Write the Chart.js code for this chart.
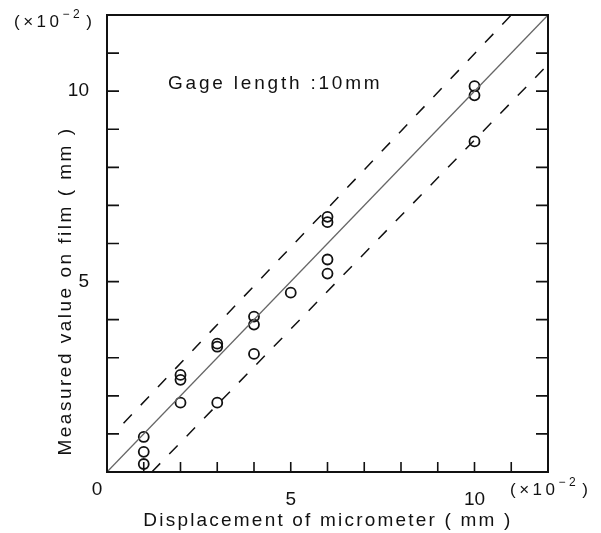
<!DOCTYPE html>
<html>
<head>
<meta charset="utf-8">
<script src="https://cdn.jsdelivr.net/npm/chart.js@4"></script>
<style>
  html, body { margin: 0; padding: 0; background: #fff; }
  #chart { display: block; }
</style>
</head>
<body>
<canvas id="chart" width="601" height="533"></canvas>
<script>
// measured points (x10^-2 mm)
const pointsX = [1, 1, 1, 2, 2, 2, 3, 3, 3, 4, 4, 4, 5, 6, 6, 6, 6, 10, 10, 10];
const pointsY = [0.92, 0.53, 0.21, 2.55, 2.42, 1.82, 3.37, 3.29, 1.82, 4.08, 3.87, 3.1, 4.71, 6.7, 6.56, 5.58, 5.21, 10.13, 9.89, 8.68];

// reference line y = x and the two dashed bounds
const idealX = [0, 12];
const idealY = [0, 12];
const upperX = [0.45, 11.0];
const upperY = [1.28, 12];
const lowerX = [1.22, 12];
const lowerY = [0, 10.7];

// axis ticks
const minorTicks = [1, 2, 3, 4, 5, 6, 7, 8, 9, 10, 11];
const labelTicks = [5, 10];

const FONT = "'Liberation Sans', Arial, sans-serif";

const toXY = (xs, ys) => xs.map((x, i) => ({ x, y: ys[i] }));

const drawText = (ctx, str, x, y, opts = {}) => {
  ctx.save();
  ctx.font = opts.font || `18px ${FONT}`;
  ctx.letterSpacing = opts.spacing || "0px";
  ctx.fillStyle = "#111";
  ctx.textAlign = opts.align || "left";
  ctx.textBaseline = "middle";
  ctx.translate(x, y);
  if (opts.rotate) ctx.rotate(opts.rotate);
  ctx.fillText(str, 0, 0);
  ctx.restore();
};

// "(x10^-2)" with a raised exponent
const drawUnit = (ctx, x, y) => {
  ctx.save();
  ctx.fillStyle = "#111";
  ctx.textBaseline = "middle";
  ctx.letterSpacing = "3.5px";
  ctx.font = `17px ${FONT}`;
  ctx.fillText("(×10", x, y);
  let w = ctx.measureText("(×10").width;
  ctx.font = `12px ${FONT}`;
  ctx.fillText("−2", x + w, y - 7);
  w += ctx.measureText("−2").width + 3;
  ctx.font = `17px ${FONT}`;
  ctx.fillText(")", x + w, y);
  ctx.restore();
};

const framePlugin = {
  id: "frame",
  afterDraw(chart) {
    const { ctx, chartArea: a, scales } = chart;
    ctx.save();
    ctx.strokeStyle = "#111";
    ctx.lineWidth = 2;
    ctx.strokeRect(a.left, a.top, a.right - a.left, a.bottom - a.top);

    // inward ticks on left, right and bottom
    ctx.lineWidth = 1.6;
    ctx.beginPath();
    minorTicks.forEach((v) => {
      const py = scales.y.getPixelForValue(v);
      ctx.moveTo(a.left, py);
      ctx.lineTo(a.left + 12, py);
      ctx.moveTo(a.right, py);
      ctx.lineTo(a.right - 12, py);
      const px = scales.x.getPixelForValue(v);
      ctx.moveTo(px, a.bottom);
      ctx.lineTo(px, a.bottom - 10);
    });
    ctx.stroke();
    ctx.restore();

    drawText(ctx, "0", a.left - 10, a.bottom + 18, { font: `19px ${FONT}`, align: "center" });
    drawUnit(ctx, 14, 22);
    drawUnit(ctx, 510, 490);
    drawText(ctx, "Gage length :10mm", 168, 84, { font: `19px ${FONT}`, spacing: "2.8px" });
    drawText(ctx, "Displacement of micrometer ( mm )", 328, 521, { font: `19px ${FONT}`, spacing: "2.2px", align: "center" });
    drawText(ctx, "Measured value on film ( mm )", 66, 291, {
      font: `19px ${FONT}`, spacing: "2.5px", align: "center", rotate: -Math.PI / 2,
    });
  },
};

const lineSet = (data, dash, color, width) => ({
  type: "line",
  data,
  borderColor: color,
  borderWidth: width,
  borderDash: dash,
  pointRadius: 0,
  fill: false,
  tension: 0,
});

const tickLabel = (v) => (labelTicks.includes(v) ? String(v) : "");

new Chart(document.getElementById("chart"), {
  type: "scatter",
  data: {
    datasets: [
      lineSet(toXY(idealX, idealY), [], "#666", 1.3),
      lineSet(toXY(upperX, upperY), [12, 13], "#111", 1.5),
      lineSet(toXY(lowerX, lowerY), [12, 13], "#111", 1.5),
      {
        data: toXY(pointsX, pointsY),
        pointStyle: "circle",
        pointRadius: 5,
        pointBorderWidth: 1.8,
        pointBorderColor: "#111",
        pointBackgroundColor: "rgba(0,0,0,0)",
      },
    ],
  },
  options: {
    responsive: false,
    animation: false,
    layout: { padding: { top: 15, right: 53, left: 0, bottom: 0 } },
    plugins: { legend: { display: false }, tooltip: { enabled: false } },
    scales: {
      x: {
        type: "linear",
        min: 0,
        max: 12,
        grid: { display: false },
        border: { display: false },
        ticks: {
          stepSize: 1,
          autoSkip: false,
          maxRotation: 0,
          padding: 8,
          color: "#111",
          font: { family: FONT, size: 19 },
          callback: tickLabel,
        },
        afterFit: (s) => {
          s.height = 61;
          s.paddingLeft = 0;
          s.paddingRight = 0;
        },
      },
      y: {
        type: "linear",
        min: 0,
        max: 12,
        grid: { display: false },
        border: { display: false },
        ticks: {
          stepSize: 1,
          autoSkip: false,
          padding: 10,
          color: "#111",
          font: { family: FONT, size: 19 },
          callback: tickLabel,
        },
        afterFit: (s) => {
          s.width = 107;
          s.paddingTop = 0;
          s.paddingBottom = 0;
        },
      },
    },
  },
  plugins: [framePlugin],
});
</script>
</body>
</html>
